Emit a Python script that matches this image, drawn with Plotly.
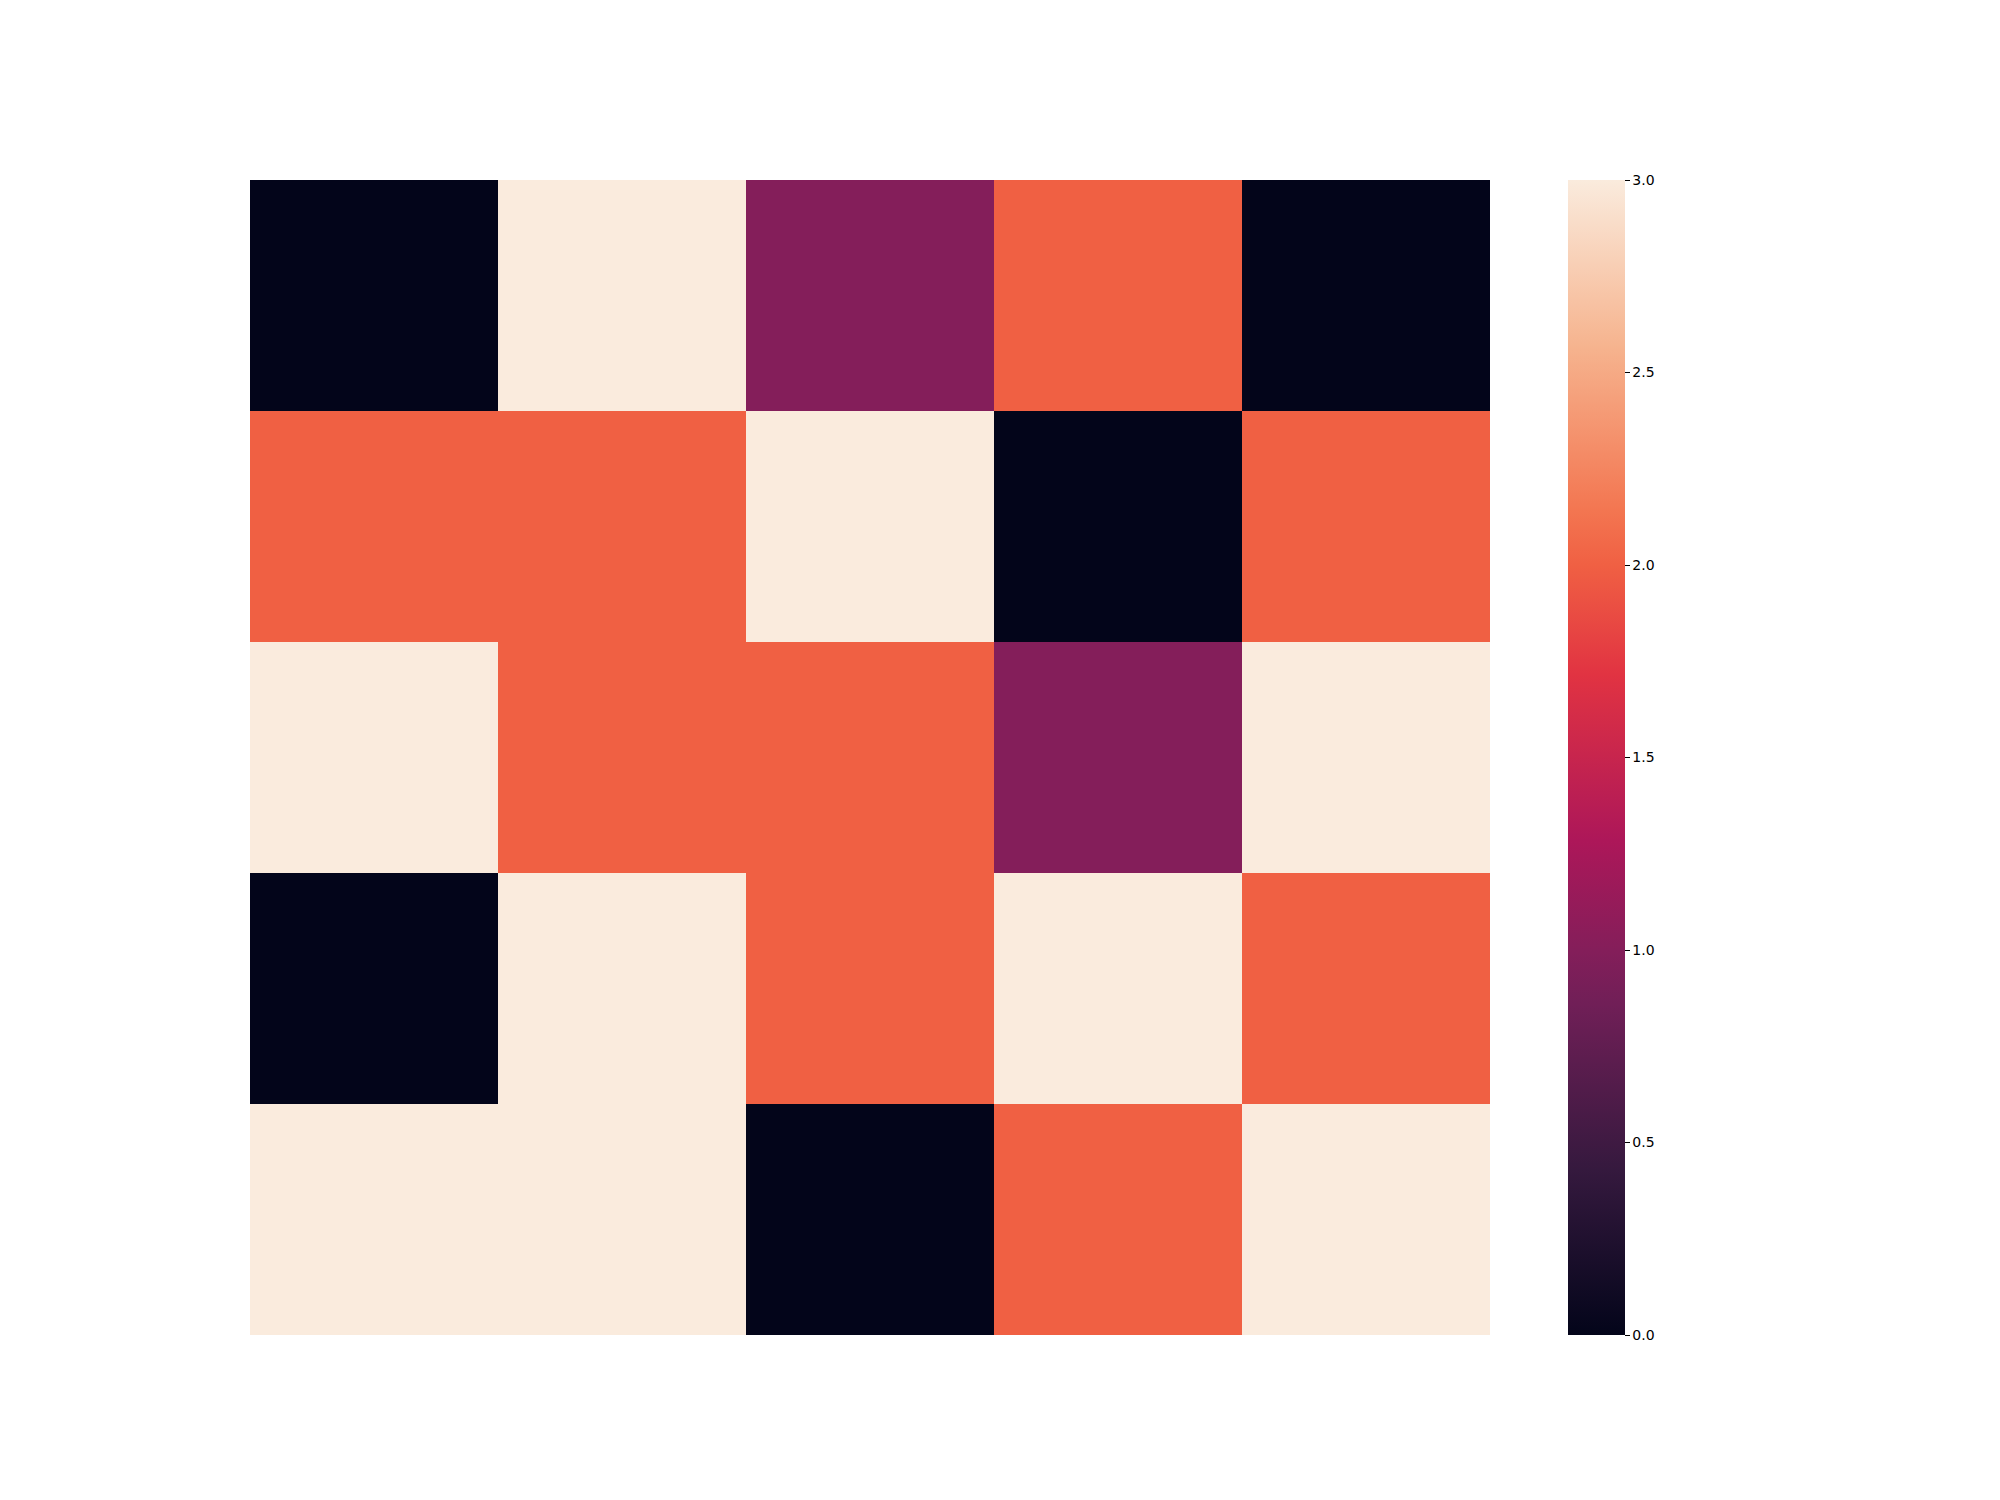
import plotly.graph_objects as go

rows = ["r0", "r1", "r2", "r3", "r4"]
cols = ["c0", "c1", "c2", "c3", "c4"]
values = [
    [0, 3, 1, 2, 0],
    [2, 2, 3, 0, 2],
    [3, 2, 2, 1, 3],
    [0, 3, 2, 3, 2],
    [3, 3, 0, 2, 3],
]
cbar_ticks = [0.0, 0.5, 1.0, 1.5, 2.0, 2.5, 3.0]
cbar_ticktext = ["0.0", "0.5", "1.0", "1.5", "2.0", "2.5", "3.0"]

rocket = [
    [0.0, "#03051a"],
    [0.1429, "#35193e"],
    [0.2857, "#701f57"],
    [0.3333, "#841e5a"],
    [0.4286, "#ad1759"],
    [0.5714, "#e13342"],
    [0.6667, "#f06043"],
    [0.7143, "#f37651"],
    [0.8571, "#f6b48f"],
    [1.0, "#faebdd"],
]

W, H = 2000, 1500
OFF = 8  # page body margin offset

fig = go.Figure(
    go.Heatmap(
        z=values,
        x=cols,
        y=rows,
        zmin=0,
        zmax=3,
        colorscale=rocket,
        xgap=0,
        ygap=0,
        colorbar=dict(
            x=(1568 - OFF) / W,
            xanchor="left",
            xpad=0,
            ypad=0,
            thickness=57,
            thicknessmode="pixels",
            len=(1335 - 180) / H,
            lenmode="fraction",
            y=1 - (1335 - OFF) / H,
            yanchor="bottom",
            outlinewidth=0,
            tickmode="array",
            tickvals=cbar_ticks,
            ticktext=cbar_ticktext,
            ticks="outside",
            ticklen=5,
            tickwidth=1,
            tickcolor="black",
            tickfont=dict(family="DejaVu Sans", size=14, color="black"),
        ),
    )
)

fig.update_layout(
    width=W,
    height=H,
    margin=dict(l=0, r=0, t=0, b=0),
    paper_bgcolor="white",
    plot_bgcolor="white",
    xaxis=dict(domain=[(250 - OFF) / W, (1490 - OFF) / W], visible=False,
               showgrid=False, zeroline=False),
    yaxis=dict(domain=[1 - (1335 - OFF) / H, 1 - (180 - OFF) / H], visible=False,
               autorange="reversed", showgrid=False, zeroline=False),
)

fig.write_html("out.html")
